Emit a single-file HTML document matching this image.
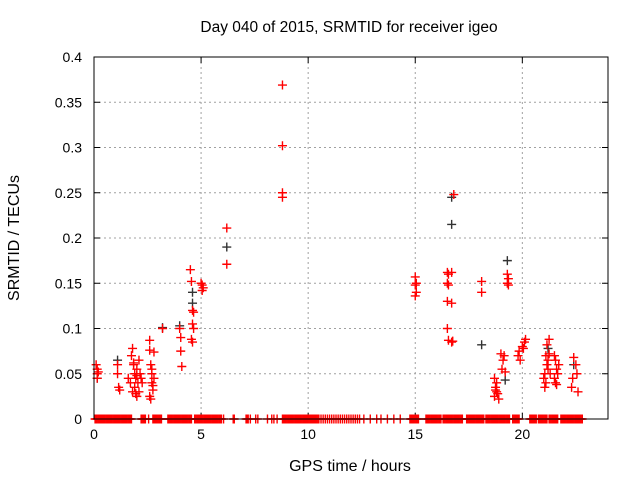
<!DOCTYPE html>
<html><head><meta charset="utf-8"><style>
body{margin:0;background:#fff}
svg{display:block;font-family:"Liberation Sans",sans-serif}
</style></head><body>
<svg id="chart" width="640" height="480">
<text x="349" y="32" text-anchor="middle" font-size="15.5">Day 040 of 2015, SRMTID for receiver igeo</text>
<text x="350" y="471" text-anchor="middle" font-size="16">GPS time / hours</text>
<text transform="translate(19,238) rotate(-90)" text-anchor="middle" font-size="16">SRMTID / TECUs</text>
<g id="grid"></g><g id="ticks"></g><g id="marks"></g>
<rect x="94" y="57" width="514" height="362" fill="none" stroke="#000" stroke-width="1"/>
</svg>
<script>
const xTicks=[0,5,10,15,20];
const yTicks=[0,0.05,0.1,0.15,0.2,0.25,0.3,0.35,0.4];
const yTickLabels=["0","0.05","0.1","0.15","0.2","0.25","0.3","0.35","0.4"];
const redHours=[0.1,0.15,0.15,0.15,0.2,1.1,1.1,1.15,1.2,1.6,1.7,1.75,1.8,1.8,1.85,1.9,1.9,1.95,2.0,2.0,2.05,2.1,2.1,2.15,2.2,2.25,1.85,1.95,2.0,2.6,2.6,2.65,2.7,2.7,2.75,2.8,2.8,2.6,2.65,2.7,2.75,3.2,4.0,4.05,4.05,4.1,4.5,4.55,4.6,4.6,4.65,4.55,4.6,4.65,5.0,5.05,5.1,5.05,6.2,6.2,8.8,8.8,8.8,8.8,15.0,15.05,15.0,15.05,15.0,16.5,16.55,16.7,16.5,16.55,16.5,16.7,16.5,16.55,16.7,16.8,16.75,18.1,18.1,18.7,18.75,18.8,18.7,18.8,18.85,18.9,18.75,19.0,19.1,19.15,19.05,19.2,19.3,19.35,19.3,19.35,19.8,19.9,20.0,20.1,20.15,19.85,20.05,21.0,21.05,21.1,21.15,21.2,21.25,21.1,21.2,21.05,21.15,21.3,21.25,21.5,21.55,21.6,21.65,21.5,21.6,21.7,21.55,22.3,22.4,22.5,22.55,22.35,22.6];
const redValues=[0.06,0.055,0.05,0.045,0.052,0.06,0.05,0.035,0.032,0.045,0.04,0.07,0.078,0.03,0.06,0.05,0.035,0.045,0.055,0.025,0.04,0.065,0.03,0.05,0.045,0.04,0.062,0.028,0.048,0.087,0.076,0.06,0.05,0.04,0.032,0.074,0.045,0.025,0.022,0.055,0.037,0.1,0.1,0.09,0.075,0.058,0.165,0.152,0.12,0.105,0.1,0.088,0.085,0.118,0.15,0.148,0.145,0.142,0.211,0.171,0.369,0.302,0.25,0.245,0.157,0.15,0.148,0.14,0.136,0.162,0.16,0.162,0.15,0.148,0.13,0.128,0.1,0.087,0.085,0.248,0.086,0.152,0.14,0.045,0.035,0.03,0.025,0.04,0.028,0.022,0.032,0.072,0.065,0.07,0.055,0.052,0.16,0.155,0.15,0.148,0.07,0.065,0.08,0.085,0.088,0.075,0.078,0.045,0.05,0.07,0.06,0.055,0.088,0.04,0.065,0.035,0.082,0.05,0.072,0.07,0.065,0.055,0.05,0.045,0.038,0.06,0.04,0.035,0.068,0.06,0.05,0.045,0.03,0.055,0.04];
const blackHours=[0.15,1.1,3.2,4.0,4.6,4.6,6.2,16.7,16.7,18.1,19.3,19.2,21.2,22.4];
const blackValues=[0.045,0.065,0.101,0.103,0.128,0.14,0.19,0.245,0.215,0.082,0.175,0.043,0.078,0.06];
const zeroHours=[0.05,0.1,0.15,0.2,0.25,0.3,0.35,0.4,0.45,0.5,0.55,0.6,0.65,0.7,0.75,0.8,0.85,0.9,0.95,1.0,1.05,1.1,1.15,1.2,1.25,1.3,1.35,1.4,1.45,1.5,1.55,1.6,1.65,1.7,1.75,2.2,2.25,2.3,2.35,2.4,2.55,2.75,2.8,2.85,2.9,2.95,3.0,3.05,3.1,3.15,3.45,3.5,3.55,3.6,3.65,3.7,3.75,3.8,3.85,3.9,3.95,4.0,4.05,4.1,4.15,4.2,4.25,4.3,4.35,4.4,4.45,4.5,4.55,4.7,4.75,4.8,4.85,4.9,4.95,5.0,5.05,5.1,5.15,5.2,5.25,5.3,5.35,5.4,5.45,5.5,5.55,5.6,5.65,5.7,5.75,5.8,5.85,5.9,5.95,6.05,6.5,6.55,7.1,7.15,7.2,7.3,7.55,7.65,8.1,8.3,8.4,8.55,8.8,8.85,8.9,8.95,9.0,9.05,9.1,9.15,9.2,9.25,9.3,9.35,9.4,9.45,9.5,9.55,9.6,9.65,9.7,9.75,9.8,9.85,9.9,9.95,10.0,10.05,10.1,10.15,10.2,10.25,10.3,10.35,10.4,10.45,10.5,10.6,10.7,10.8,10.9,11.0,11.1,11.2,11.3,11.4,11.5,11.6,11.7,11.8,11.9,12.0,12.1,12.2,12.3,12.4,12.6,12.9,13.2,13.4,13.7,14.0,14.3,14.75,14.8,14.85,14.9,14.95,15.0,15.05,15.1,15.15,15.5,15.55,15.6,15.65,15.7,15.75,15.8,15.85,15.9,15.95,16.0,16.05,16.1,16.15,16.2,16.3,16.35,16.4,16.45,16.5,16.55,16.6,16.65,16.7,16.75,16.8,16.85,16.9,16.95,17.0,17.05,17.1,17.15,17.2,17.4,17.45,17.5,17.55,17.6,17.65,17.7,17.75,17.8,17.85,17.9,17.95,18.0,18.05,18.1,18.15,18.2,18.3,18.35,18.4,18.45,18.5,18.55,18.6,18.65,18.7,18.75,18.8,18.85,18.9,18.95,19.0,19.05,19.1,19.15,19.2,19.25,19.3,19.35,19.4,19.55,19.6,19.65,19.7,19.75,19.8,19.85,20.35,20.4,20.45,20.5,20.55,20.6,20.65,20.75,20.8,20.85,20.9,20.95,21.0,21.05,21.1,21.15,21.25,21.3,21.35,21.4,21.45,21.5,21.55,21.6,21.65,21.8,21.85,21.9,21.95,22.0,22.05,22.1,22.15,22.2,22.25,22.3,22.35,22.4,22.45,22.5,22.55,22.6,22.65,22.7,22.75,22.8];
const X0=94,X1=608,Y0=419,Y1=57,XMAX=24,YMAX=0.4;
const xs=h=>X0+h/XMAX*(X1-X0);
const ys=v=>Y0-v/YMAX*(Y0-Y1);
const NS="http://www.w3.org/2000/svg";
const g=document.getElementById('grid'),t=document.getElementById('ticks'),m=document.getElementById('marks');
function mk(tag,attrs,parent){const e=document.createElementNS(NS,tag);for(const k in attrs)e.setAttribute(k,attrs[k]);parent.appendChild(e);return e;}
xTicks.forEach(v=>{const x=xs(v);
 if(v>0){const l=mk('line',{x1:x,x2:x,y1:Y0,y2:Y1,stroke:'#a0a0a0','stroke-dasharray':'2,3'},g);
 
 }
 const tx=mk('text',{x:x,y:Y0+20,'text-anchor':'middle','font-size':'14'},t);tx.textContent=v;
 
 
 mk('line',{x1:x,x2:x,y1:Y0,y2:Y0-6,stroke:'#000'},t);
 mk('line',{x1:x,x2:x,y1:Y1,y2:Y1+6,stroke:'#000'},t);});
yTicks.forEach((v,i)=>{const y=ys(v);
 if(v>0&&v<YMAX){const l=mk('line',{x1:X0,x2:X1,y1:y,y2:y,stroke:'#a0a0a0','stroke-dasharray':'2,3'},g);
 
 }
 const tx=mk('text',{x:82,y:y+5,'text-anchor':'end','font-size':'14'},t);tx.textContent=yTickLabels[i];
 
 
 mk('line',{x1:X0,x2:X0+6,y1:y,y2:y,stroke:'#000'},t);
 mk('line',{x1:X1,x2:X1-6,y1:y,y2:y,stroke:'#000'},t);});
function plus(h,v,col,name){const x=xs(h),y=ys(v);
 const p=mk('path',{d:`M${x-4.5},${y}H${x+4.5}M${x},${y-4.5}V${y+4.5}`,stroke:col,'stroke-width':'1.4',fill:'none'},m);
 
 }
zeroHours.forEach(h=>plus(h,0,'#ff0000','zero-point'));
blackHours.forEach((h,i)=>plus(h,blackValues[i],'#333333','black-point'));
redHours.forEach((h,i)=>plus(h,redValues[i],'#ff0000','red-point'));
</script>
</body></html>
